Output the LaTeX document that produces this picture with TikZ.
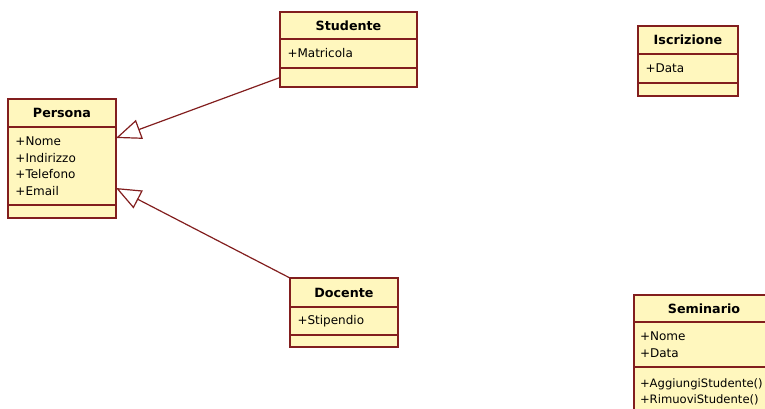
\documentclass[tikz,border=0pt]{standalone}
\usepackage{fontspec}
\setmainfont{DejaVu Sans}
\usetikzlibrary{positioning,calc,arrows.meta}
\definecolor{umlfill}{RGB}{255,247,190}
\definecolor{umlline}{RGB}{130,30,30}

\begin{document}
\begin{tikzpicture}[x=1pt,y=-1pt,
  every node/.style={font=\fontsize{12}{16.5}\selectfont},
  part/.style={draw=umlline,fill=umlfill,line width=1.3pt,rectangle,outer sep=0pt,inner sep=0pt,node distance=0pt},
  head/.style={part,font=\fontsize{12.7}{14}\selectfont\bfseries,align=center},
  body/.style={part,align=left,inner xsep=7.5pt},
  inherit/.style={draw=umlline,line width=1.2pt,-{Triangle[open,length=25pt,width=20pt,fill=white]}}]

        \useasboundingbox (0,0) rectangle (765,408);
        \clip (0,0) rectangle (765,408);

        % Persona
        \node (per) [head,minimum width=108pt,minimum height=28pt,anchor=north west] at (8,99) {Persona};
        \node (perA) [body,text width=93pt,minimum height=78pt,below=0pt of per] {+Nome\\+Indirizzo\\+Telefono\\+Email};
        \node (perO) [part,minimum width=108pt,minimum height=13pt,below=0pt of perA] {};

        % Studente
        \node (stu) [head,minimum width=137pt,minimum height=27pt,anchor=north west] at (280,12) {Studente};
        \node (stuA) [body,text width=122pt,minimum height=29pt,below=0pt of stu] {+Matricola};
        \node (stuO) [part,minimum width=137pt,minimum height=19pt,below=0pt of stuA] {};

        % Docente
        \node (doc) [head,minimum width=108pt,minimum height=29pt,anchor=north west] at (290,278) {Docente};
        \node (docA) [body,text width=93pt,minimum height=28pt,below=0pt of doc] {+Stipendio};
        \node (docO) [part,minimum width=108pt,minimum height=12pt,below=0pt of docA] {};

        % Iscrizione
        \node (isc) [head,minimum width=100pt,minimum height=28pt,anchor=north west] at (638,26) {Iscrizione};
        \node (iscA) [body,text width=85pt,minimum height=29pt,below=0pt of isc] {+Data};
        \node (iscO) [part,minimum width=100pt,minimum height=13pt,below=0pt of iscA] {};

        % Seminario
        \node (sem) [head,minimum width=140pt,minimum height=27pt,anchor=north west] at (634,295) {Seminario};
        \node (semA) [body,inner xsep=6pt,text width=128pt,minimum height=45pt,below=0pt of sem] {+Nome\\+Data};
        \node (semO) [body,inner xsep=6pt,text width=128pt,minimum height=50pt,below=0pt of semA,
          font=\fontsize{11.6}{16.5}\selectfont] {+AggiungiStudente()\\+RimuoviStudente()\\ };

        \draw[inherit] (stuO.west) -- ($(perA.north east)+(0,11)$);
        \draw[inherit] (doc.north west) -- ($(perA.south east)+(0,-17)$);
      \end{tikzpicture}
\end{document}
